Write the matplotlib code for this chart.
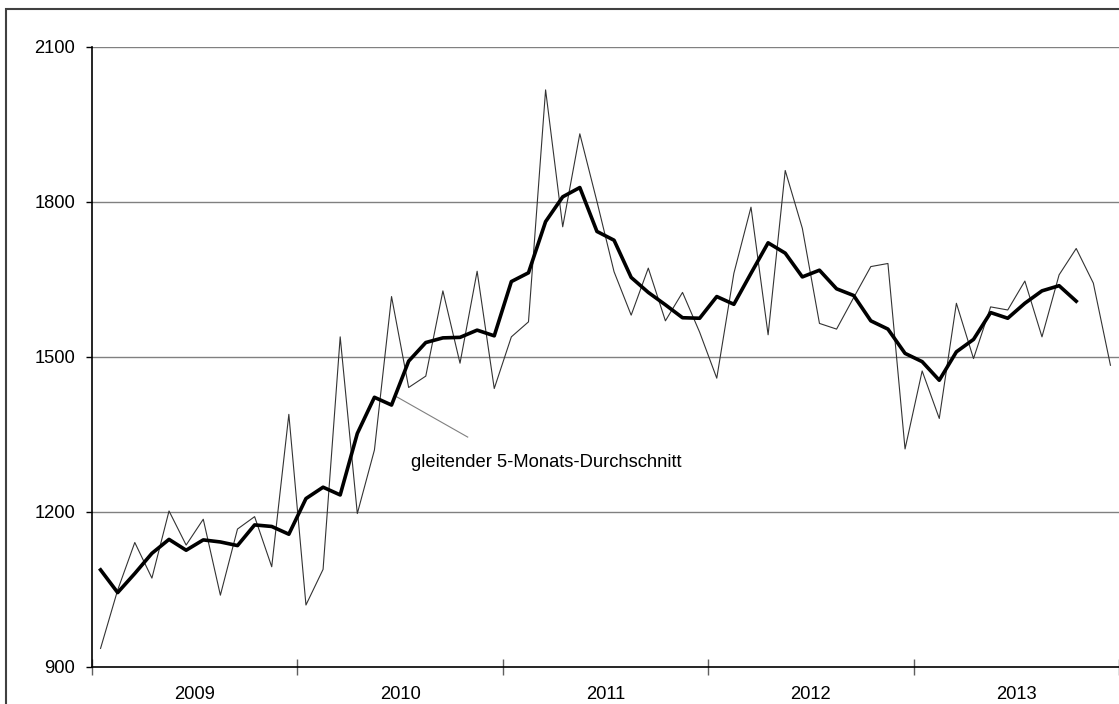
import numpy as np
import matplotlib
matplotlib.use("Agg")
import matplotlib.pyplot as plt
from matplotlib.patches import Rectangle

plt.rcParams['font.family'] = ['Liberation Sans', 'DejaVu Sans']

# Monatswerte 2009-2013 (dünne Linie)
monthly = [936, 1049, 1141, 1072, 1202, 1136, 1186, 1039, 1167, 1191, 1094, 1389,
           1020, 1089, 1539, 1197, 1320, 1617, 1441, 1463, 1628, 1488, 1666, 1439,
           1539, 1568, 2017, 1752, 1932, 1801, 1665, 1581, 1672, 1570, 1625, 1548,
           1459, 1662, 1790, 1543, 1861, 1749, 1565, 1554, 1615, 1675, 1681, 1322,
           1473, 1381, 1604, 1497, 1597, 1591, 1647, 1539, 1659, 1710, 1643, 1484]

# gleitender 5-Monats-Durchschnitt (dicke Linie)
moving_avg = [1088, 1044, 1081, 1120, 1147, 1126, 1146, 1142, 1135, 1175, 1172, 1157,
              1226, 1248, 1233, 1352, 1422, 1407, 1492, 1528, 1537, 1538, 1552, 1541,
              1646, 1663, 1762, 1810, 1828, 1743, 1726, 1654, 1625, 1601, 1576, 1575,
              1617, 1602, 1662, 1721, 1701, 1655, 1668, 1632, 1619, 1570, 1554, 1507,
              1491, 1455, 1510, 1534, 1586, 1575, 1604, 1628, 1638, 1608]

years = ['2009', '2010', '2011', '2012', '2013']
y_ticks = [900, 1200, 1500, 1800, 2100]

x_month = np.arange(len(monthly)) + 0.5
x_avg = np.arange(len(moving_avg)) + 0.5

fs = 13.2

fig = plt.figure(figsize=(11.19, 7.04), dpi=100)
ax = fig.add_axes([92 / 1119, 1 - 667 / 704, 1 - 92 / 1119, (667 - 47) / 704])

# äußerer Rahmen
fig.patches.append(Rectangle((6 / 1119, -0.2), 1.5, 1.2 - 9 / 704, fill=False,
                             edgecolor='#404040', linewidth=1.5, transform=fig.transFigure))

for y in y_ticks[1:]:
    ax.axhline(y, color='#808080', linewidth=1.0, zorder=1)

ax.plot(x_month, monthly, color='#333333', linewidth=0.8, zorder=2)
ax.plot(x_avg, moving_avg, color='black', linewidth=2.6, zorder=3)

# Beschriftung mit Hinweislinie
ax.plot([17.8, 21.95], [1423, 1345], color='#808080', linewidth=0.8, zorder=2)
ax.text(18.65, 1295, 'gleitender 5-Monats-Durchschnitt', fontsize=fs,
        ha='left', va='center')

ax.set_xlim(0, 60)
ax.set_ylim(900, 2100)

ax.set_yticks(y_ticks)
ax.set_yticklabels([str(v) for v in y_ticks])
ax.tick_params(axis='y', direction='out', length=4.3, width=1, pad=8, labelsize=fs)

ax.set_xticks(np.arange(0, 61, 12))
ax.set_xticklabels([])
ax.set_xticks(np.arange(6, 60, 12), minor=True)
ax.set_xticklabels(years, minor=True)
ax.tick_params(axis='x', which='major', direction='inout', length=11, width=1,
               color='#606060')
ax.tick_params(axis='x', which='minor', length=0, pad=14, labelsize=fs)

for s in ['top', 'right']:
    ax.spines[s].set_visible(False)
for s in ['left', 'bottom']:
    ax.spines[s].set_linewidth(1.2)
    ax.spines[s].set_color('black')

fig.savefig('out.png', dpi=100)
